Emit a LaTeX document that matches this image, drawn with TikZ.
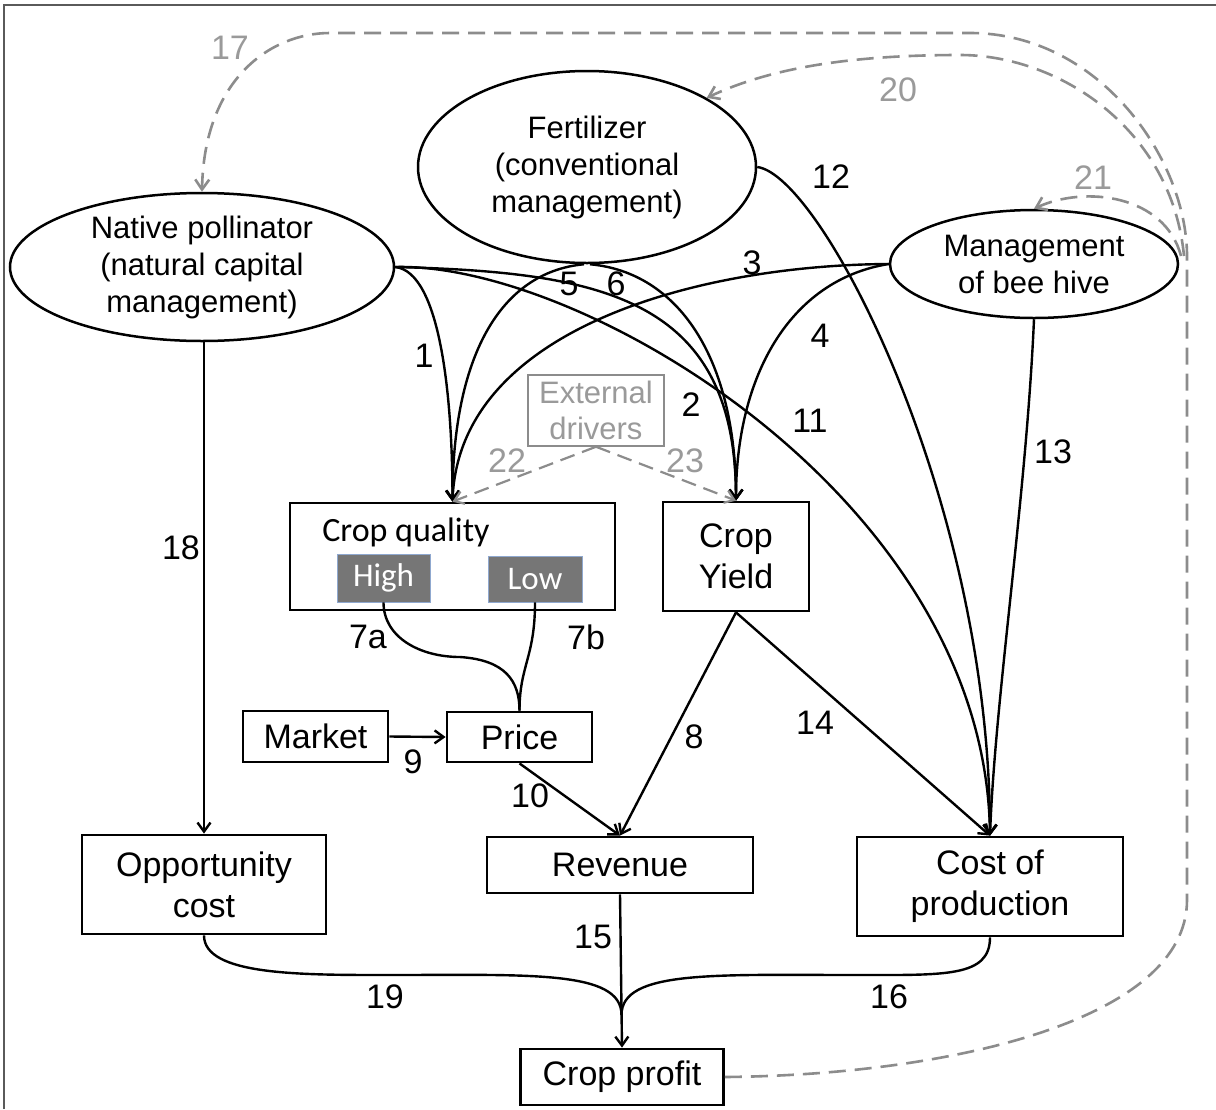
\documentclass[tikz,border=0pt]{standalone}
\usepackage{fontspec}
\setmainfont{Liberation Sans}
\newfontfamily\calfont{Carlito}
\usetikzlibrary{arrows.meta,shapes.geometric}
\definecolor{gline}{HTML}{8C8C8C}
\definecolor{gtext}{HTML}{9A9A9A}
\definecolor{qfill}{HTML}{767676}
\definecolor{qborder}{HTML}{8FA8CF}
\definecolor{framec}{HTML}{5A5A5A}
\begin{document}
\begin{tikzpicture}[x=1pt,y=-1pt,
  box/.style={draw,line width=2.8pt,inner sep=0pt,align=center,font=\fontsize{34}{41}\selectfont},
  ell/.style={draw,ellipse,line width=2.5pt,inner sep=0pt,align=center,font=\fontsize{31}{37}\selectfont},
  qbox/.style={fill=qfill,draw=qborder,line width=0.8pt,text=white,inner sep=0pt,font=\calfont\fontsize{33}{40}\selectfont},
  link/.style={line width=2.4pt},
  conn/.style={line width=2.4pt,-{Straight Barb[length=9pt,width=13pt]}},
  dconn/.style={draw=gline,line width=2.6pt,dash pattern=on 17pt off 9pt,-{Straight Barb[length=10pt,width=14pt]}},
  dconnb/.style={draw=gline,line width=2.2pt,dash pattern=on 15pt off 8pt,-{Straight Barb[length=9pt,width=13pt]}},
  num/.style={inner sep=0pt,font=\fontsize{34}{40}\selectfont},
  gnum/.style={num,text=gtext},
]
\fill[white] (0,0) rectangle (1216,1109);
\useasboundingbox (0,0) rectangle (1216,1109);
\draw[framec,line width=1.2pt] (4,1109) -- (4,5) -- (1216,5);

% nodes
\node[ell,minimum width=384,minimum height=148] (np) at (202,267) {Native pollinator\\(natural capital\\management)};
\node[ell,minimum width=338,minimum height=192] (fert) at (587,167) {Fertilizer\\(conventional\\management)};
\node[ell,minimum width=288,minimum height=108] (bee) at (1034,264) {Management\\of bee hive};
\node[draw=gline,line width=1.5pt,text=gtext,inner sep=0pt,minimum width=136,minimum height=71,align=center,font=\fontsize{31}{36}\selectfont] (ext) at (596,410.5) {External\\drivers};
\node[box,minimum width=325,minimum height=107] (cq) at (452.5,556.5) {};
\node[anchor=base,inner sep=0pt,font=\calfont\fontsize{34}{40}\selectfont] (cqt) at (406,541) {Crop quality};
\node[qbox,minimum width=93,minimum height=48] (high) at (383.5,578) {High};
\node[qbox,minimum width=94,minimum height=46] (low) at (535,579) {Low};
\node[box,minimum width=146,minimum height=109] (yield) at (736,556.5) {Crop\\Yield};
\node[box,minimum width=145,minimum height=51] (market) at (315.5,736.5) {Market};
\node[box,minimum width=145,minimum height=50] (price) at (519.5,737) {Price};
\node[box,minimum width=244,minimum height=99] (opp) at (204,884.5) {Opportunity\\cost};
\node[box,minimum width=266,minimum height=56] (rev) at (620,865) {Revenue};
\node[box,minimum width=266,minimum height=99] (cost) at (990,886.5) {Cost of\\production};
\node[box,minimum width=203,minimum height=56] (profit) at (622,1077) {Crop profit};

% helper coordinates
\coordinate (j) at (1187,256);
\coordinate (m19) at (390,975);
\coordinate (m16) at (855,975);
\coordinate (jn) at (621.5,1015);
\coordinate (m7) at (460,657);

% solid connectors
\draw[conn] (np.east) .. controls +(45,5) and +(0,-105) .. (cq.north);
\draw[conn] (np.east) .. controls +(206,5) and +(0,-203) .. (yield.north);
\draw[conn] (np.east) .. controls +(187,-5) and +(-5,-337) .. (cost.north);
\draw[conn] ([xshift=-3pt]fert.south) .. controls +(-85,8) and +(0,-143) .. (cq.north);
\draw[conn] ([xshift=3pt]fert.south) .. controls +(88,8) and +(0,-143) .. (yield.north);
\draw[conn] (bee.west) .. controls +(-190,1) and +(7,-173) .. (cq.north);
\draw[conn] (bee.west) .. controls +(-100,16) and +(0,-123) .. (yield.north);
\draw[conn] (fert.east) .. controls +(64,8) and +(0,-337) .. (cost.north);
\draw[conn] (bee.south) .. controls +(-8,180) and +(5,-137) .. (cost.north);
\draw[conn] (yield.south) -- (cost.north);
\draw[conn] (yield.south) -- (rev.north);
\draw[conn] (price.south) -- (rev.north);
\draw[conn] (market.east) -- (price.west);
\draw[conn] (opp.north |- np.south) -- (opp.north);
\draw[conn] (rev.south) -- (profit.north);
\draw[link] (high.south) .. controls +(0,35) and +(-40,0) .. (m7) .. controls +(45,3) and +(0,-30) .. (price.north);
\draw[link] (low.south) .. controls +(0,55) and +(0,-45) .. (price.north);
\draw[link] (opp.south) .. controls +(0,40) and +(-90,0) .. (m19) .. controls +(140,0) and +(0,-45) .. (jn);
\draw[link] (cost.south) .. controls +(0,40) and +(90,0) .. (m16) .. controls +(-140,0) and +(0,-45) .. (jn);

% dashed connectors
\draw[dconn] (profit.east) .. controls (950,1075) and (1187,1020) .. (1187,900) -- (j)
   .. controls (1187,160) and (1100,33) .. (970,33) -- (330,33)
   .. controls (270,33) and (204,80) .. (np.north);
\draw[dconn] ([xshift=-3pt]j) .. controls (1172,130) and (1060,55) .. (960,55)
   .. controls (850,55) and (770,68) .. (fert.30);
\draw[dconn] ([xshift=-6pt]j) .. controls (1165,195) and (1085,185) .. (bee.north);
\draw[dconnb] (ext.south) -- (cq.north);
\draw[dconnb] (ext.south) -- (yield.north);

% labels
\node[num] (l1) at (424,356) {1};
\node[num] (l2) at (691,405) {2};
\node[num] (l3) at (752,263) {3};
\node[num] (l4) at (820,336) {4};
\node[num] (l5) at (569,284) {5};
\node[num] (l6) at (616,284) {6};
\node[num] (l7a) at (368,637) {7a};
\node[num] (l7b) at (586,637) {7b};
\node[num] (l8) at (694,737) {8};
\node[num] (l9) at (413,762) {9};
\node[num] (l10) at (530,796) {10};
\node[num] (l11) at (810,421) {11};
\node[num] (l12) at (831,177) {12};
\node[num] (l13) at (1053,452) {13};
\node[num] (l14) at (815,723) {14};
\node[num] (l15) at (593,937) {15};
\node[num] (l16) at (889,997) {16};
\node[num] (l18) at (181,548) {18};
\node[num] (l19) at (385,997) {19};
\node[gnum] (l17) at (230,48) {17};
\node[gnum] (l20) at (898,90) {20};
\node[gnum] (l21) at (1093,178) {21};
\node[gnum] (l22) at (507,461) {22};
\node[gnum] (l23) at (685,461) {23};
\end{tikzpicture}
\end{document}
